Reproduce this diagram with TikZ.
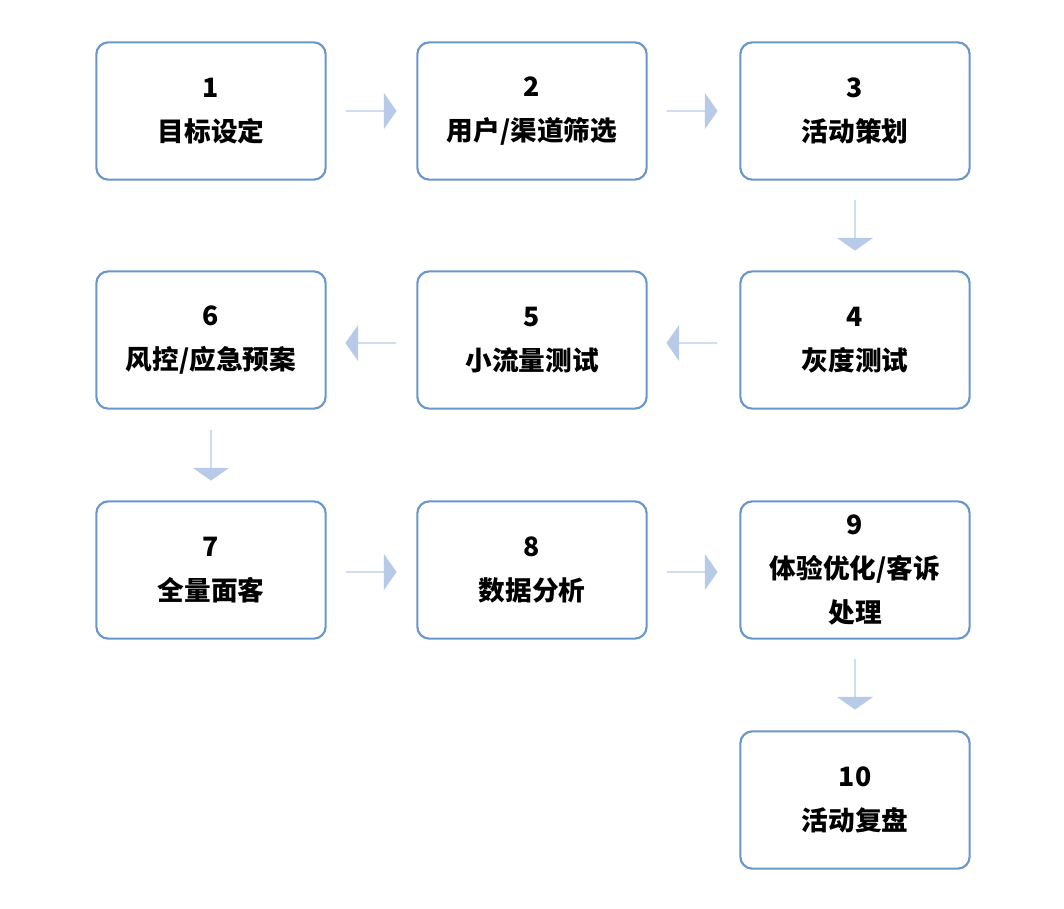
\documentclass[tikz,border=0pt]{standalone}
\usepackage{fontspec}
\newfontfamily\cjk{Noto Sans CJK SC}
\usetikzlibrary{shapes.arrows}
\definecolor{edgeblue}{RGB}{105,150,205}
\definecolor{flowblue}{RGB}{183,202,232}
\begin{document}
\begin{tikzpicture}[x=0.75pt,y=-0.75pt,
    stage/.style={draw=edgeblue, line width=1.6pt, rounded corners=9pt, fill=white,
      minimum width=172pt, minimum height=103pt, align=center, font=\cjk\bfseries\fontsize{20}{33}\selectfont},
    flow/.style={single arrow, fill=flowblue, draw=none, minimum height=38pt,
      minimum width=27pt, single arrow head extend=5pt, inner sep=0pt, single arrow tip angle=110}]
    \useasboundingbox (0,0) rectangle (1064,908);
    \node [stage] (s1) at (211,111) {1\\目标设定};
    \node [stage] (s2) at (532,111) {2\\用户/渠道筛选};
    \node [stage] (s3) at (855,111) {3\\活动策划};
    \node [stage] (s4) at (855,340) {4\\灰度测试};
    \node [stage] (s5) at (532,340) {5\\小流量测试};
    \node [stage] (s6) at (211,340) {6\\风控/应急预案};
    \node [stage] (s7) at (211,570) {7\\全量面客};
    \node [stage] (s8) at (532,570) {8\\数据分析};
    \node [stage] (s9) at (855,570) {9\\体验优化/客诉\\处理};
    \node [stage] (s10) at (855,800) {10\\活动复盘};
    \node [flow] (a12) at (371,111) {};
    \node [flow] (a23) at (692,111) {};
    \node [flow, shape border rotate=270] (a34) at (855,225) {};
    \node [flow, shape border rotate=180] (a45) at (692,343) {};
    \node [flow, shape border rotate=180] (a56) at (371,343) {};
    \node [flow, shape border rotate=270] (a67) at (211,455) {};
    \node [flow] (a78) at (371,572) {};
    \node [flow] (a89) at (692,572) {};
    \node [flow, shape border rotate=270] (a910) at (855,684) {};
\end{tikzpicture}
\end{document}
